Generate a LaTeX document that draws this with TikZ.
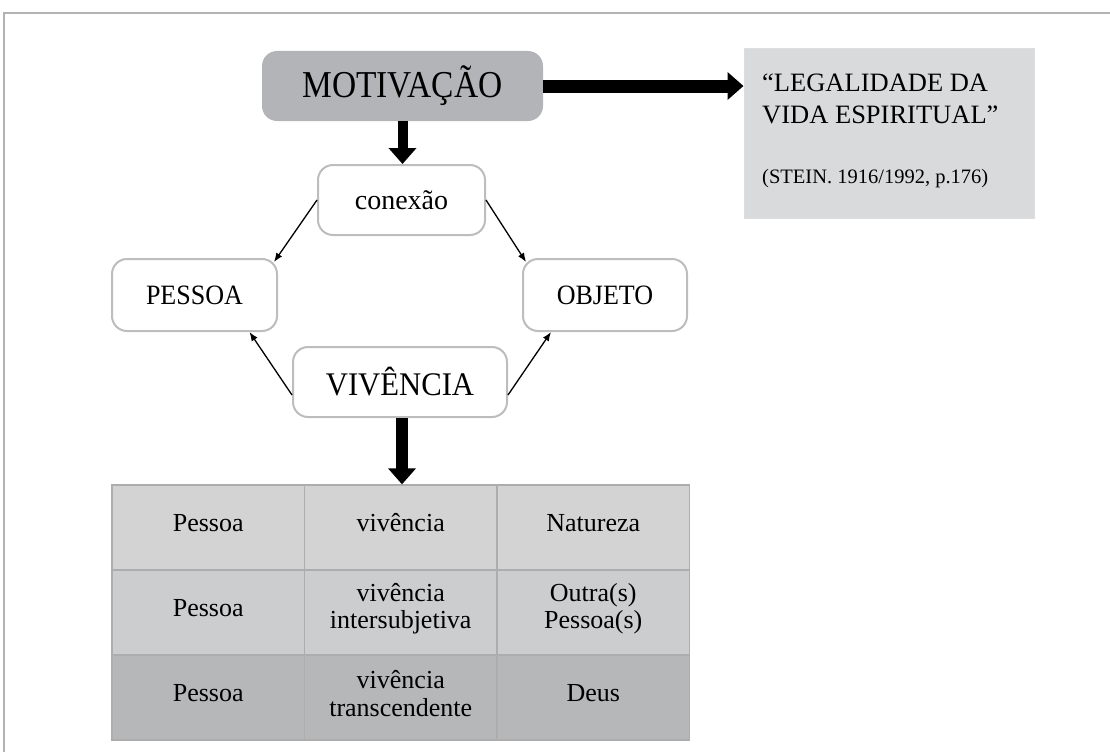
\documentclass[tikz,border=0pt]{standalone}
\usepackage{fontspec}
\setmainfont{Liberation Serif}
\newfontfamily\condensedserif[FakeStretch=0.88]{Liberation Serif}
\newfontfamily\narrowserif[FakeStretch=0.93]{Liberation Serif}
\usetikzlibrary{arrows.meta}

\definecolor{frameline}{HTML}{B2B2B2}
\definecolor{boxline}{HTML}{BDBDBD}
\definecolor{motfill}{HTML}{B3B4B7}
\definecolor{quotefill}{HTML}{D9DADB}
\definecolor{rowA}{HTML}{D3D3D3}
\definecolor{rowB}{HTML}{CCCDCF}
\definecolor{rowC}{HTML}{B6B7B9}
\definecolor{gridline}{HTML}{ADADAD}

\tikzset{
  roundbox/.style={draw=boxline, line width=2pt, fill=white, rounded corners=15pt,
                   inner sep=0pt, align=center},
  motbox/.style={fill=motfill, rounded corners=15pt, inner sep=0pt,
                 minimum width=281pt, minimum height=70pt,
                 font=\condensedserif\fontsize{38}{42}\selectfont},
  quotebox/.style={fill=quotefill, draw=quotefill!90!white, line width=1pt, inner sep=0pt,
                   minimum width=290pt, minimum height=169pt},
  quotetext/.style={anchor=base west, inner sep=0pt},
  cell/.style={draw=gridline, line width=1.3pt, inner sep=0pt,
               minimum width=192.5pt, minimum height=85pt},
  celltext/.style={inner sep=0pt, align=center,
                   font=\fontsize{26}{27.5}\selectfont},
  cellword/.style={celltext, anchor=base},
  bigarrow/.style={line width=#1, -{Triangle[width=27pt,length=16pt]}},
  thinarrow/.style={line width=1.3pt, -{Latex[length=9pt,width=7pt]}}
}

\begin{document}
\begin{tikzpicture}[x=1pt, y=-1pt]
  \useasboundingbox (0,0) rectangle (1110,752);

  % page frame
  \draw[frameline, line width=2pt] (3.5,752) -- (3.5,13) -- (1110,13);

  % upper part
  \node[motbox] (m) at (402.5,86) {MOTIVAÇÃO};
  \node[quotebox] (q) at (889,133.5) {};
  \node[quotetext, font=\fontsize{26.5}{30}\selectfont] (q1) at (762,92) {“LEGALIDADE DA};
  \node[quotetext, font=\fontsize{26.5}{30}\selectfont] (q2) at (762,123) {VIDA ESPIRITUAL”};
  \node[quotetext, font=\fontsize{20.5}{24}\selectfont] (q3) at (762,183) {(STEIN. 1916/1992, p.176)};

  \node[roundbox, minimum width=167pt, minimum height=70pt,
        font=\fontsize{28}{32}\selectfont] (con) at (401.5,200) {conexão};
  \node[roundbox, minimum width=165pt, minimum height=72pt,
        font=\narrowserif\fontsize{28}{32}\selectfont] (p) at (194.5,295) {PESSOA};
  \node[roundbox, minimum width=164pt, minimum height=72pt,
        font=\narrowserif\fontsize{28}{32}\selectfont] (o) at (605,295) {OBJETO};
  \node[roundbox, minimum width=214pt, minimum height=70pt,
        font=\narrowserif\fontsize{33}{37}\selectfont] (v) at (400,382) {VIVÊNCIA};

  % table
  \node[cell, fill=rowA] (c11) at (208.25,527.5) {};
  \node[cell, fill=rowA] (c12) at (400.75,527.5) {};
  \node[cell, fill=rowA] (c13) at (593.25,527.5) {};
  \node[cell, fill=rowB] (c21) at (208.25,612.5) {};
  \node[cell, fill=rowB] (c22) at (400.75,612.5) {};
  \node[cell, fill=rowB] (c23) at (593.25,612.5) {};
  \node[cell, fill=rowC] (c31) at (208.25,697.5) {};
  \node[cell, fill=rowC] (c32) at (400.75,697.5) {};
  \node[cell, fill=rowC] (c33) at (593.25,697.5) {};

  \node[cellword] (t11) at ([yshift=-4pt]c11.center) {Pessoa};
  \node[cellword] (t12) at ([yshift=-4pt]c12.center) {vivência};
  \node[cellword] (t13) at ([yshift=-4pt]c13.center) {Natureza};
  \node[cellword] (t21) at ([yshift=-4pt]c21.center) {Pessoa};
  \node[celltext] (t22) at ([yshift=4pt]c22.center) {vivência\\intersubjetiva};
  \node[celltext] (t23) at ([yshift=4pt]c23.center) {Outra(s)\\Pessoa(s)};
  \node[cellword] (t31) at ([yshift=-4pt]c31.center) {Pessoa};
  \node[celltext] (t32) at ([yshift=4pt]c32.center) {vivência\\transcendente};
  \node[cellword] (t33) at ([yshift=-4pt]c33.center) {Deus};

  % thick arrows
  \draw[bigarrow=13pt] (m.east) -- (m.east -| q.west);
  \draw[bigarrow=10pt] (m.south) -- (m.south |- con.north);
  \draw[bigarrow=12pt] ([xshift=2pt]v.south) -- ([xshift=2pt]v.south |- c12.north);

  % thin arrows
  \draw[thinarrow] (con.west) -- ([xshift=-4pt,yshift=-4pt]p.north east);
  \draw[thinarrow] (con.east) -- ([xshift=4pt,yshift=-4pt]o.north west);
  \draw[thinarrow] ([yshift=-13pt]v.west) -- ([xshift=55pt]p.south);
  \draw[thinarrow] ([yshift=-13pt]v.east) -- ([xshift=-54pt]o.south);
\end{tikzpicture}
\end{document}
